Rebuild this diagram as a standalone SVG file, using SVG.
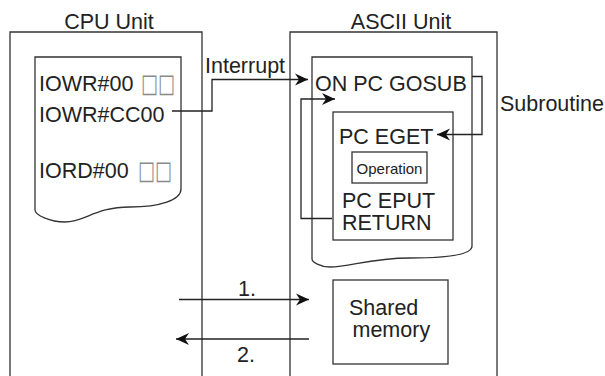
<svg xmlns="http://www.w3.org/2000/svg" width="605" height="376" viewBox="0 0 605 376">
<style>
  .box { fill: #fff; stroke: #333; stroke-width: 1.3; }
  .t { font-family: "Liberation Sans", Arial, sans-serif; font-size: 21.5px; fill: #222; }
  .sm { font-family: "Liberation Sans", Arial, sans-serif; font-size: 15px; fill: #222; }
  .sq { font-family: "DejaVu Sans", sans-serif; font-size: 26px; fill: #8a8a8a; }
  .c { fill: none; stroke: #222; stroke-width: 1.3; }
</style>
<defs>
  <marker id="ah" markerUnits="userSpaceOnUse" markerWidth="16" markerHeight="14" viewBox="-14 -7 16 14" refX="0" refY="0" orient="auto">
    <path d="M0,0 L-13,-6 L-9,0 L-13,6 Z" fill="#111"/>
  </marker>
</defs>
<rect width="605" height="376" fill="#fff"/>

<g id="cpu-unit">
  <path class="box" d="M10,376 V32 H202 V376"/>
  <text class="t" x="109" y="28.5" text-anchor="middle">CPU Unit</text>
</g>

<g id="cpu-program">
  <path class="box" d="M35,57 H181 V189 C181,200 160,207 130,207 C95,207 85,222 65,222 C50,222 35,215 35,210 Z"/>
  <text class="t" x="39" y="91">IOWR#00</text>
  <text class="sq" x="141" y="92" textLength="34" lengthAdjust="spacingAndGlyphs">□□</text>
  <text class="t" x="39" y="121.5">IOWR#CC00</text>
  <text class="t" x="39" y="178">IORD#00</text>
  <text class="sq" x="138" y="179" textLength="34" lengthAdjust="spacingAndGlyphs">□□</text>
</g>

<g id="ascii-unit">
  <path class="box" d="M290,376 V32 H497 V376"/>
  <text class="t" x="401" y="28.5" text-anchor="middle">ASCII Unit</text>
</g>

<g id="ascii-program">
  <path class="box" d="M312,57 H472 V246 C472,256 440,258 410,258 C370,258 350,267 330,267 C320,267 312,262 312,259 Z"/>
  <text class="t" x="315" y="90.5">ON PC GOSUB</text>
</g>

<g id="subroutine">
  <rect class="box" x="333" y="112" width="120" height="128"/>
  <text class="t" x="339" y="144">PC EGET</text>
  <text class="t" x="342" y="207.5">PC EPUT</text>
  <text class="t" x="342" y="230">RETURN</text>
</g>

<g id="operation">
  <rect class="box" x="352" y="152" width="75" height="31"/>
  <text class="sm" x="389.5" y="173.5" text-anchor="middle">Operation</text>
</g>

<g id="shared-memory">
  <rect class="box" x="333" y="280" width="115" height="84"/>
  <text class="t" x="349" y="315">Shared</text>
  <text class="t" x="352.5" y="336.5">memory</text>
</g>

<g id="connectors">
  <path class="c" d="M172,111 H212 V79.5 H308" marker-end="url(#ah)"/>
  <text class="t" x="205" y="73">Interrupt</text>
  <path class="c" d="M332,218.5 H301 V99 H335" marker-end="url(#ah)"/>
  <path class="c" d="M472,76.5 H482 V134.5 H437" marker-end="url(#ah)"/>
  <text class="t" x="500" y="110.5">Subroutine</text>
  <path class="c" d="M179,299.5 H309" marker-end="url(#ah)"/>
  <text class="t" x="247" y="296" text-anchor="middle">1.</text>
  <path class="c" d="M309,339 H176" marker-end="url(#ah)"/>
  <text class="t" x="246" y="361.5" text-anchor="middle">2.</text>
</g>
</svg>
